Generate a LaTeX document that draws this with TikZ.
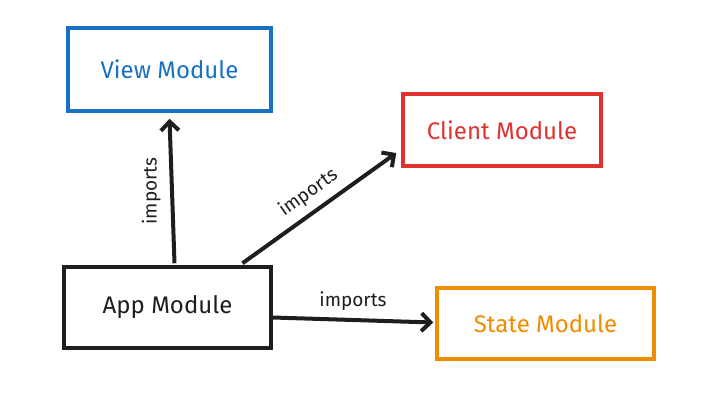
\documentclass[tikz,border=0pt]{standalone}
\usepackage{fontspec}
\setmainfont{Fira Sans}
\usetikzlibrary{arrows.meta}
\definecolor{viewblue}{HTML}{1971C2}
\definecolor{clientred}{HTML}{E03131}
\definecolor{stateorange}{HTML}{F08C00}
\definecolor{inkblack}{HTML}{1E1E1E}

\begin{document}
\begin{tikzpicture}[x=1pt,y=1pt,
  modbox/.style={draw,line width=3.5pt,minimum width=#1,inner sep=0pt,font=\fontsize{24}{28}\selectfont},
  importarrow/.style={draw=inkblack,line width=4pt,-{Straight Barb[length=9pt,width=18pt,line width=4pt]}},
  importlabel/.style={font=\fontsize{19}{22}\selectfont,text=inkblack}]
  \useasboundingbox (0,0) rectangle (718,-408);
  \node[modbox=203pt,minimum height=83pt,draw=viewblue,text=viewblue] at (169.5,-69.5) (view) {View Module};
  \node[modbox=198pt,minimum height=72pt,draw=clientred,text=clientred] at (502,-130) (client) {Client Module};
  \node[modbox=207pt,minimum height=81pt,draw=inkblack,text=inkblack] at (167.5,-307.5) (app) {App Module};
  \node[modbox=217pt,minimum height=71pt,draw=stateorange,text=stateorange] at (545.5,-323.5) (state) {State Module};
  \draw[importarrow] ([xshift=7pt,yshift=2pt]app.north) -- ([yshift=-6pt]view.south)
    node[importlabel,midway,rotate=90,anchor=south,yshift=6pt] (imp1) {imports};
  \draw[importarrow] ([xshift=75pt,yshift=2pt]app.north) -- ([xshift=-5pt,yshift=-23pt]client.west)
    node[importlabel,midway,sloped,above=4pt] (imp2) {imports};
  \draw[importarrow] ([yshift=-10pt]app.east) -- ([xshift=-2pt,yshift=1pt]state.west)
    node[importlabel,midway,above=4pt] (imp3) {imports};
\end{tikzpicture}
\end{document}
